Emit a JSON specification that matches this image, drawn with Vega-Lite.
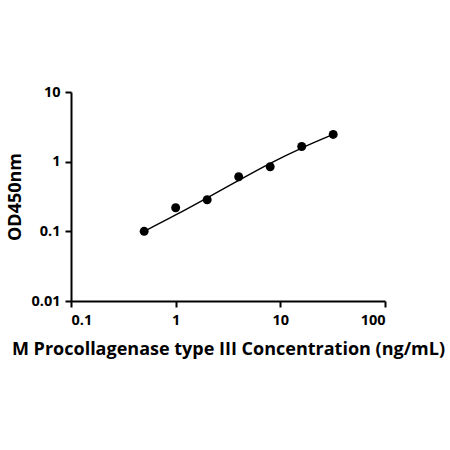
{
  "$schema": "https://vega.github.io/schema/vega-lite/v6.json",
  "width": 314,
  "height": 209,
  "padding": {"left": 6, "top": 84, "right": 5, "bottom": 5},
  "background": "white",
  "config": {
    "view": {"stroke": null},
    "font": "Open Sans",
    "axis": {
      "domainColor": "black",
      "domainWidth": 2,
      "tickColor": "black",
      "tickWidth": 2,
      "tickSize": 6,
      "grid": false,
      "labelFont": "Open Sans",
      "labelFontWeight": "bold",
      "labelFontSize": 14.5,
      "labelColor": "black",
      "titleFont": "Open Sans",
      "titleFontWeight": "bold",
      "titleColor": "black"
    }
  },
  "datasets": {
    "points": [
      {"conc": 0.5, "od": 0.1},
      {"conc": 1, "od": 0.218},
      {"conc": 2, "od": 0.284},
      {"conc": 4, "od": 0.608},
      {"conc": 8, "od": 0.846},
      {"conc": 16, "od": 1.65},
      {"conc": 32, "od": 2.46}
    ],
    "fit": [
      {"conc": 0.5, "od": 0.1},
      {"conc": 1, "od": 0.172},
      {"conc": 2, "od": 0.303},
      {"conc": 4, "od": 0.539},
      {"conc": 8, "od": 0.947},
      {"conc": 16, "od": 1.57},
      {"conc": 32, "od": 2.46}
    ]
  },
  "encoding": {
    "x": {
      "field": "conc",
      "type": "quantitative",
      "scale": {"type": "log", "domain": [0.1, 100]},
      "axis": {
        "values": [0.1, 1, 10, 100],
        "format": "~g",
        "title": "M Procollagenase type III Concentration (ng/mL)",
        "titleFontSize": 18,
        "titlePadding": 14,
        "labelPadding": 6
      }
    },
    "y": {
      "field": "od",
      "type": "quantitative",
      "scale": {"type": "log", "domain": [0.01, 10]},
      "axis": {
        "values": [0.01, 0.1, 1, 10],
        "format": "~g",
        "title": "OD450nm",
        "titleFontSize": 18,
        "titlePadding": 6,
        "labelPadding": 5
      }
    }
  },
  "layer": [
    {
      "data": {"name": "fit"},
      "mark": {"type": "line", "color": "black", "strokeWidth": 1.4, "interpolate": "natural"}
    },
    {
      "data": {"name": "points"},
      "mark": {"type": "point", "filled": true, "color": "black", "opacity": 1, "size": 80}
    }
  ]
}
